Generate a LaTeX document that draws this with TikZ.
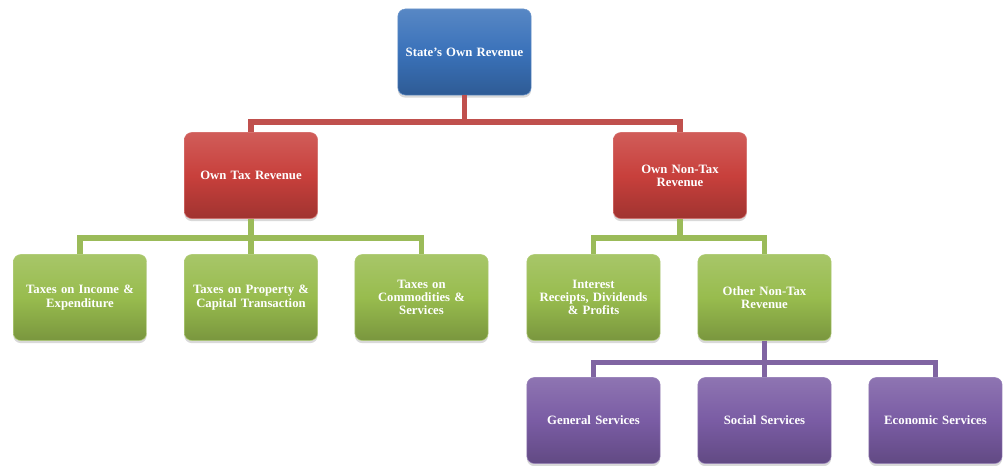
\documentclass[tikz,border=0pt]{standalone}
\usepackage{fontspec}
\setmainfont{Liberation Serif}
\usepackage{tikz}
\usetikzlibrary{
    positioning,   % Relative positioning
    shadows,       % Drop shadows under boxes
    calc           % Coordinate calculations
}
\definecolor{RevBlue}{RGB}{58,114,186}
\definecolor{RevRed}{RGB}{200,64,60}
\definecolor{RevGreen}{RGB}{152,188,78}
\definecolor{RevPurple}{RGB}{122,92,164}
\definecolor{LinkRed}{RGB}{192,80,77}
\definecolor{LinkGreen}{RGB}{155,187,89}
\definecolor{LinkPurple}{RGB}{128,100,162}
\tikzset{revenue box/.style={
    rectangle,
    rounded corners=0.2cm,
    align=center,
    text width=3.3cm,
    minimum height=2.28cm,
    minimum width=3.52cm,
    text=white,
    font=\fontsize{9.6}{10}\selectfont\bfseries,
    drop shadow={shadow xshift=0pt, shadow yshift=-2pt, opacity=0.3}
}}
\tikzset{revenue box blue/.style={
    revenue box,
    draw=RevBlue!75!white,
    top color=RevBlue!85!white,
    bottom color=RevBlue!80!black,
    middle color=RevBlue
}}
\tikzset{revenue box red/.style={
    revenue box,
    draw=RevRed!75!white,
    top color=RevRed!85!white,
    bottom color=RevRed!80!black,
    middle color=RevRed
}}
\tikzset{revenue box green/.style={
    revenue box,
    draw=RevGreen!75!white,
    top color=RevGreen!85!white,
    bottom color=RevGreen!80!black,
    middle color=RevGreen
}}
\tikzset{revenue box purple/.style={
    revenue box,
    draw=RevPurple!75!white,
    top color=RevPurple!85!white,
    bottom color=RevPurple!80!black,
    middle color=RevPurple
}}
\tikzset{revenue link/.style={
    line width=4.2pt,
    line join=miter
}}

\begin{document}
\begin{tikzpicture}[x=0.0265cm, y=-0.0265cm]
    \useasboundingbox (0,0) rectangle (1003,465);

    % top level
    \node[revenue box blue] (sor) at (464.5,52) {State's Own Revenue};

    % second level
    \node[revenue box red] (otr) at (251,175.5) {Own Tax Revenue};
    \node[revenue box red] (ontr) at (680,175.5) {Own Non-Tax\\Revenue};

    % third level
    \node[revenue box green] (tie) at (80,297.5) {Taxes on Income \&\\Expenditure};
    \node[revenue box green] (tpc) at (251,297.5) {Taxes on Property \&\\Capital Transaction};
    \node[revenue box green] (tcs) at (421.5,297.5) {Taxes on\\Commodities \&\\Services};
    \node[revenue box green] (ird) at (593.5,297.5) {Interest\\Receipts, Dividends\\\& Profits};
    \node[revenue box green] (ont) at (764.5,297.5) {Other Non-Tax\\Revenue};

    % fourth level
    \node[revenue box purple] (gs) at (593.5,420.5) {General Services};
    \node[revenue box purple] (ss) at (764.5,420.5) {Social Services};
    \node[revenue box purple] (es) at (935.5,420.5) {Economic Services};

    % connectors
    \draw[revenue link, LinkRed] (sor.south) -- ++(0,27) -| (otr.north);
    \draw[revenue link, LinkRed] (sor.south) -- ++(0,27) -| (ontr.north);

    \draw[revenue link, LinkGreen] (otr.south) -- ++(0,19.5) -| (tie.north);
    \draw[revenue link, LinkGreen] (otr.south) -- (tpc.north);
    \draw[revenue link, LinkGreen] (otr.south) -- ++(0,19.5) -| (tcs.north);
    \draw[revenue link, LinkGreen] (ontr.south) -- ++(0,19.5) -| (ird.north);
    \draw[revenue link, LinkGreen] (ontr.south) -- ++(0,19.5) -| (ont.north);

    \draw[revenue link, LinkPurple] (ont.south) -- ++(0,21.5) -| (gs.north);
    \draw[revenue link, LinkPurple] (ont.south) -- (ss.north);
    \draw[revenue link, LinkPurple] (ont.south) -- ++(0,21.5) -| (es.north);
\end{tikzpicture}
\end{document}
